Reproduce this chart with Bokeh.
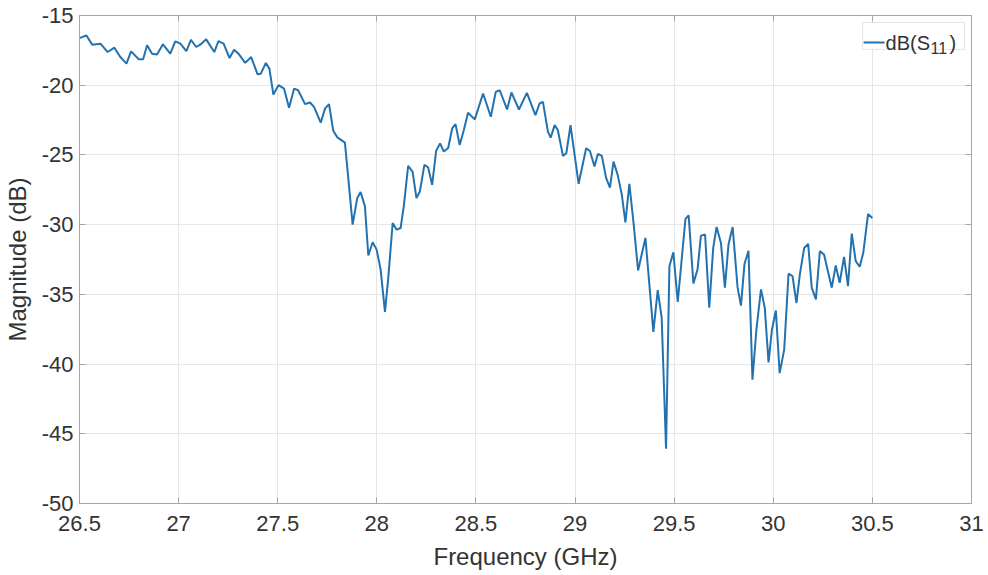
from bokeh.plotting import figure
from bokeh.models import Range1d, LinearAxis, FixedTicker, BoxAnnotation, Label, Arrow
from bokeh.embed import file_html
from bokeh.resources import INLINE

freq = [26.500, 26.535, 26.564, 26.606, 26.642, 26.676, 26.706, 26.737, 26.760, 26.799,
        26.821, 26.841, 26.866, 26.891, 26.921, 26.958, 26.983, 27.009, 27.039, 27.062,
        27.089, 27.109, 27.139, 27.180, 27.201, 27.227, 27.257, 27.280, 27.302, 27.336,
        27.366, 27.398, 27.415, 27.440, 27.458, 27.478, 27.504, 27.532, 27.557, 27.583,
        27.603, 27.638, 27.663, 27.683, 27.717, 27.739, 27.759, 27.780, 27.801, 27.839,
        27.878, 27.901, 27.918, 27.940, 27.957, 27.979, 27.999, 28.019, 28.041, 28.057,
        28.080, 28.100, 28.120, 28.136, 28.158, 28.180, 28.200, 28.217, 28.240, 28.259,
        28.279, 28.299, 28.319, 28.338, 28.360, 28.380, 28.397, 28.418, 28.439, 28.460,
        28.494, 28.536, 28.575, 28.600, 28.620, 28.657, 28.679, 28.717, 28.757, 28.800,
        28.821, 28.838, 28.863, 28.877, 28.897, 28.913, 28.939, 28.956, 28.977, 29.018,
        29.056, 29.075, 29.098, 29.115, 29.135, 29.157, 29.176, 29.194, 29.215, 29.236,
        29.254, 29.274, 29.295, 29.318, 29.355, 29.395, 29.417, 29.437, 29.459, 29.476,
        29.496, 29.518, 29.557, 29.573, 29.597, 29.618, 29.635, 29.656, 29.677, 29.697,
        29.714, 29.736, 29.756, 29.774, 29.795, 29.820, 29.837, 29.855, 29.875, 29.895,
        29.915, 29.938, 29.957, 29.976, 29.993, 30.013, 30.032, 30.055, 30.077, 30.097,
        30.117, 30.134, 30.156, 30.176, 30.194, 30.215, 30.235, 30.256, 30.295, 30.315,
        30.335, 30.357, 30.377, 30.396, 30.416, 30.436, 30.454, 30.478, 30.500]

mag = [-16.62, -16.43, -17.09, -17.02, -17.62, -17.31, -17.98, -18.45, -17.57, -18.14,
       -18.14, -17.14, -17.74, -17.80, -17.07, -17.74, -16.86, -17.02, -17.55, -16.74,
       -17.26, -17.09, -16.71, -17.62, -16.83, -17.02, -18.05, -17.45, -17.74, -18.40,
       -17.98, -19.21, -19.17, -18.40, -18.81, -20.67, -20.00, -20.25, -21.62, -20.24,
       -20.36, -21.36, -21.24, -21.55, -22.69, -21.66, -21.36, -23.26, -23.74, -24.12,
       -30.00, -28.10, -27.66, -28.69, -32.21, -31.26, -31.79, -33.21, -36.26, -33.93,
       -29.88, -30.36, -30.24, -28.69, -25.79, -26.19, -28.10, -27.62, -25.71, -25.90,
       -27.14, -24.72, -24.17, -24.76, -24.50, -23.10, -22.79, -24.29, -23.21, -21.98,
       -22.45, -20.59, -22.26, -20.48, -20.36, -21.74, -20.52, -21.74, -20.55, -22.14,
       -21.31, -21.19, -23.33, -23.76, -22.86, -23.21, -25.07, -24.88, -22.86, -27.07,
       -24.52, -24.72, -25.83, -24.93, -25.07, -26.67, -27.35, -25.48, -26.43, -27.86,
       -29.83, -27.07, -29.88, -33.29, -30.95, -37.69, -34.69, -36.67, -46.07, -32.98,
       -31.98, -35.55, -29.59, -29.34, -34.21, -33.21, -30.79, -30.71, -35.95, -31.67,
       -30.17, -31.31, -34.52, -31.43, -30.17, -34.52, -35.81, -32.80, -31.88, -41.12,
       -37.50, -34.64, -35.95, -39.88, -37.56, -36.16, -40.65, -38.98, -33.52, -33.69,
       -35.62, -33.57, -31.67, -31.38, -34.52, -35.36, -31.90, -32.14, -34.52, -32.93,
       -34.17, -32.31, -34.40, -30.64, -32.62, -33.02, -32.02, -29.24, -29.52]

x_ticks = [26.5, 27, 27.5, 28, 28.5, 29, 29.5, 30, 30.5, 31]
x_tick_labels = ["26.5", "27", "27.5", "28", "28.5", "29", "29.5", "30", "30.5", "31"]
y_ticks = [-50, -45, -40, -35, -30, -25, -20, -15]
y_tick_labels = ["-50", "-45", "-40", "-35", "-30", "-25", "-20", "-15"]

series_label_main = "dB(S"
series_label_sub = "11"
series_label_end = ")"

FONT = "Liberation Sans"
TXT = "#333333"
FRAME = "#a6a6a6"
GRID = "#e6e6e6"
LINE = "#2372b0"

X0, X1, Y0, Y1 = 26.5, 31.0, -50.0, -15.0

p = figure(width=985, height=572, x_range=Range1d(X0, X1), y_range=Range1d(Y0, Y1),
           output_backend="svg", toolbar_location=None,
           min_border_left=78, min_border_right=14, min_border_top=15, min_border_bottom=67)

p.background_fill_color = "white"
p.border_fill_color = "white"
p.outline_line_color = FRAME
p.outline_line_width = 1

p.line(freq, mag, line_color=LINE, line_width=2)

xt = FixedTicker(ticks=x_ticks)
yt = FixedTicker(ticks=y_ticks)

p.xaxis.ticker = xt
p.yaxis.ticker = yt
p.xgrid.ticker = xt
p.ygrid.ticker = yt
p.xgrid.grid_line_color = GRID
p.ygrid.grid_line_color = GRID
p.xaxis.major_label_overrides = {v: s for v, s in zip(x_ticks, x_tick_labels)}
p.yaxis.major_label_overrides = {v: s for v, s in zip(y_ticks, y_tick_labels)}

for ax in (p.xaxis[0], p.yaxis[0]):
    ax.axis_line_color = FRAME
    ax.major_tick_line_color = FRAME
    ax.major_tick_in = 6
    ax.major_tick_out = 0
    ax.minor_tick_line_color = None
    ax.major_label_text_font = FONT
    ax.major_label_text_font_size = "22px"
    ax.major_label_text_color = TXT
    ax.axis_label_text_font = FONT
    ax.axis_label_text_font_size = "24px"
    ax.axis_label_text_font_style = "normal"
    ax.axis_label_text_color = TXT

p.xaxis.axis_label = "Frequency (GHz)"
p.yaxis.axis_label = "Magnitude (dB)"
p.xaxis.major_label_standoff = 12
p.xaxis.axis_label_standoff = 9
p.yaxis.major_label_standoff = 6
p.yaxis.axis_label_standoff = 8

for loc, tk in (("right", yt), ("above", xt)):
    ax = LinearAxis(ticker=tk)
    ax.axis_line_color = FRAME
    ax.major_tick_line_color = FRAME
    ax.major_tick_in = 6
    ax.major_tick_out = 0
    ax.minor_tick_line_color = None
    ax.major_label_text_color = None
    ax.major_label_text_font_size = "1px"
    ax.major_label_standoff = 0
    p.add_layout(ax, loc)

# legend (drawn by hand so the subscript matches)
def fx(px):
    return X0 + (px - 78.0) * (X1 - X0) / 893.0

def fy(py):
    return Y1 - (py - 15.0) * (Y1 - Y0) / 490.0

p.add_layout(BoxAnnotation(left=fx(862), right=fx(964), top=fy(22), bottom=fy(49),
                           fill_color="white", fill_alpha=1.0,
                           line_color=FRAME, line_width=1, level="overlay"))
p.add_layout(Arrow(end=None, x_start=fx(863), y_start=fy(42), x_end=fx(884), y_end=fy(42),
                   line_color=LINE, line_width=2, level="overlay"))
p.add_layout(Label(x=fx(885), y=fy(43), text=series_label_main, text_font=FONT,
                   text_font_size="20px", text_color=TXT, text_baseline="alphabetic",
                   text_align="left", level="overlay"))
p.add_layout(Label(x=fx(930), y=fy(48), text=series_label_sub, text_font=FONT,
                   text_font_size="16px", text_color=TXT, text_baseline="alphabetic",
                   text_align="left", level="overlay"))
p.add_layout(Label(x=fx(949), y=fy(43), text=series_label_end, text_font=FONT,
                   text_font_size="20px", text_color=TXT, text_baseline="alphabetic",
                   text_align="left", level="overlay"))

open("out.html", "w").write(file_html(p, INLINE))
